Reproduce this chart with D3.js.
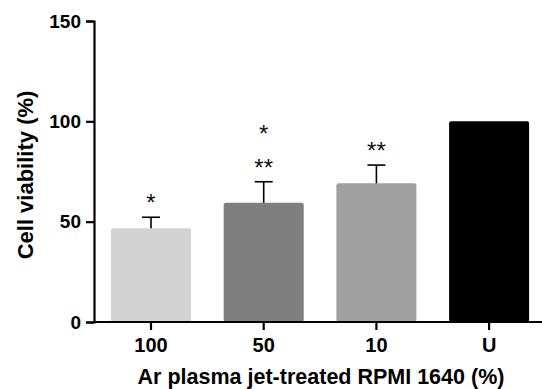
<!DOCTYPE html>
<html>
<head>
<meta charset="utf-8">
<script src="https://cdn.jsdelivr.net/npm/d3@7"></script>
<style>
  body { margin: 0; background: #fff; }
  svg { display: block; font-family: Arial, "Liberation Sans", Helvetica, sans-serif; }
</style>
</head>
<body>
<div id="chart"></div>
<script>
// chart values
var groups = ["100", "50", "10", "U"];
var viability = [46.7, 59.4, 69.1, 100];
var errUp = [5.5, 10.5, 9.1, 0];
var stars = [["*"], ["**", "*"], ["**"], []];
var barColors = ["#d3d3d3", "#7f7f7f", "#a0a0a0", "#000000"];
var yTicks = [0, 50, 100, 150];

var width = 542, height = 389;

var svg = d3.select("#chart")
    .append("svg")
    .attr("width", width)
    .attr("height", height);

var y = d3.scaleLinear()
    .domain([0, 150])
    .range([322, 21]);

var x = d3.scaleBand()
    .domain(groups)
    .range([94.65, 545.45])
    .paddingInner(0.29)
    .paddingOuter(0.145);

// bars
svg.selectAll("rect.bar")
    .data(groups)
    .enter()
    .append("rect")
    .attr("class", "bar")
    .attr("x", function (d) { return x(d); })
    .attr("width", x.bandwidth())
    .attr("y", function (d, i) { return y(viability[i]); })
    .attr("height", function (d, i) { return y(0) - y(viability[i]); })
    .attr("rx", 2)
    .attr("fill", function (d, i) { return barColors[i]; });

// upper error bars
var eb = svg.selectAll("g.err")
    .data(groups.filter(function (d, i) { return errUp[i] > 0; }))
    .enter()
    .append("g")
    .attr("class", "err")
    .attr("stroke", "#000")
    .attr("stroke-width", 1.6);

eb.append("line")
    .attr("x1", function (d) { return x(d) + x.bandwidth() / 2; })
    .attr("x2", function (d) { return x(d) + x.bandwidth() / 2; })
    .attr("y1", function (d) { var i = groups.indexOf(d); return y(viability[i]); })
    .attr("y2", function (d) { var i = groups.indexOf(d); return y(viability[i] + errUp[i]); });

eb.append("line")
    .attr("x1", function (d) { return x(d) + x.bandwidth() / 2 - 9; })
    .attr("x2", function (d) { return x(d) + x.bandwidth() / 2 + 9; })
    .attr("y1", function (d) { var i = groups.indexOf(d); return y(viability[i] + errUp[i]); })
    .attr("y2", function (d) { var i = groups.indexOf(d); return y(viability[i] + errUp[i]); });

// significance stars, stacked above the error bar
groups.forEach(function (g, i) {
    stars[i].forEach(function (s, k) {
        svg.append("text")
            .attr("x", x(g) + x.bandwidth() / 2)
            .attr("y", y(viability[i] + errUp[i]) - 6 - k * 34)
            .attr("text-anchor", "middle")
            .attr("font-size", 24)
            .attr("fill", "#111")
            .text(s);
    });
});

// axes
var yAxis = svg.append("g")
    .attr("transform", "translate(94,0)")
    .call(d3.axisLeft(y).tickValues(yTicks).tickSize(8).tickPadding(5).tickFormat(d3.format("d")));

var xAxis = svg.append("g")
    .attr("transform", "translate(0,322)")
    .call(d3.axisBottom(x).tickSize(8).tickPadding(8));

xAxis.select(".domain").attr("d", "M94,0H542");

svg.selectAll(".domain, .tick line")
    .attr("stroke", "#000")
    .attr("stroke-width", 2.2);

yAxis.selectAll(".tick text")
    .attr("font-size", 19)
    .attr("font-weight", "bold")
    .attr("fill", "#000");

xAxis.selectAll(".tick text")
    .attr("font-size", 20)
    .attr("font-weight", "bold")
    .attr("fill", "#000");

// axis titles
svg.append("text")
    .attr("x", 321)
    .attr("y", 384)
    .attr("text-anchor", "middle")
    .attr("font-size", 21.5)
    .attr("font-weight", "bold")
    .text("Ar plasma jet-treated RPMI 1640 (%)");

svg.append("text")
    .attr("transform", "translate(33,175) rotate(-90)")
    .attr("text-anchor", "middle")
    .attr("font-size", 22)
    .attr("font-weight", "bold")
    .text("Cell viability (%)");
</script>
</body>
</html>
